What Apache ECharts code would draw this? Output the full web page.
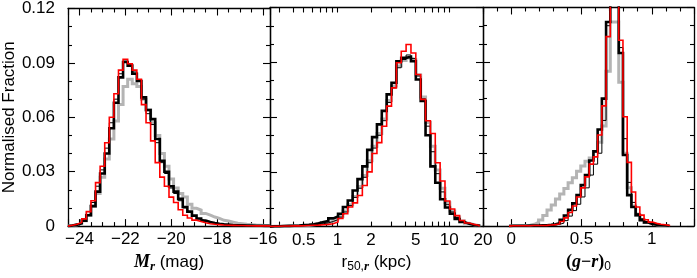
<!DOCTYPE html>
<html>
<head>
<meta charset="utf-8">
<script src="https://cdn.jsdelivr.net/npm/echarts@6.0.0/dist/echarts.min.js"></script>
<style>
html,body{margin:0;padding:0;background:#fff;}
#chart{width:697px;height:278px;}
</style>
</head>
<body>
<div id="chart"></div>
<script>
// ---------------- DATA ----------------
// Panel 1: absolute magnitude M_r, bins of 0.2 mag, first bin edge -24.5
const magEdge0 = -24.5;
const magBinWidth = 0.2;
const magGrey  = [0.0003,0.0007,0.0015,0.003,0.006,0.011,0.018,0.027,0.037,0.048,0.058,0.067,0.077,0.081,0.0785,0.077,0.070,0.064,0.057,0.050,0.040,0.033,0.026,0.021,0.018,0.016,0.012,0.0098,0.0088,0.007,0.006,0.005,0.0043,0.0032,0.0028,0.0022,0.0016,0.0013,0.001,0.0008,0.0006,0.0005,0.0004,0.0003];
const magBlack = [0.0003,0.0008,0.0015,0.003,0.006,0.011,0.019,0.029,0.040,0.054,0.068,0.082,0.0905,0.0885,0.084,0.080,0.071,0.064,0.059,0.048,0.036,0.030,0.022,0.019,0.015,0.0105,0.008,0.0058,0.0042,0.003,0.0022,0.0017,0.0013,0.001,0.0008,0.0006,0.0005,0.0004,0.0003,0.0003,0.0002,0.0002,0.0001,0.0001];
const magThin  = [0.0005,0.001,0.002,0.004,0.008,0.013,0.022,0.031,0.043,0.057,0.070,0.084,0.091,0.089,0.085,0.080,0.070,0.062,0.056,0.046,0.035,0.029,0.021,0.018,0.014,0.010,0.0075,0.0055,0.004,0.0029,0.0021,0.0016,0.0012,0.001,0.0008,0.0006,0.0005,0.0004,0.0003,0.0003,0.0002,0.0002,0.0001,0.0001];
const magRed   = [0.0005,0.001,0.002,0.004,0.008,0.014,0.024,0.033,0.046,0.060,0.073,0.086,0.092,0.0895,0.086,0.081,0.067,0.057,0.047,0.035,0.027,0.022,0.016,0.013,0.009,0.006,0.0045,0.0033,0.0025,0.0018,0.0013,0.001,0.0008,0.0006,0.0005,0.0004,0.0003,0.0003,0.0002,0.0002,0.0001,0.0001,0.0001,0.0001];

// Panel 2: half-light radius r50 (kpc), bins of 0.1 in ln(r), first edge at 0.25 kpc
const r50FirstEdgeKpc = 0.25;
const r50LnBinWidth = 0.1;
const r50Grey  = [0.0002,0.0002,0.0003,0.0003,0.0004,0.0005,0.0006,0.0008,0.001,0.0013,0.0018,0.0022,0.003,0.004,0.0055,0.0085,0.012,0.0165,0.022,0.028,0.036,0.044,0.051,0.059,0.069,0.077,0.088,0.091,0.0924,0.0915,0.083,0.071,0.057,0.044,0.031,0.021,0.013,0.0085,0.0052,0.003,0.0018,0.001,0.0006];
const r50Black = [0.0002,0.0002,0.0003,0.0004,0.0005,0.0006,0.0008,0.001,0.0013,0.0018,0.0025,0.003,0.0045,0.0055,0.007,0.0107,0.0143,0.0198,0.026,0.033,0.042,0.049,0.056,0.0634,0.0724,0.0788,0.0906,0.0924,0.093,0.0906,0.0806,0.0688,0.050,0.033,0.024,0.015,0.0105,0.007,0.0042,0.0025,0.0015,0.0009,0.0005];
const r50Thin  = [0.0002,0.0002,0.0003,0.0003,0.0004,0.0005,0.0006,0.0008,0.001,0.0012,0.0016,0.002,0.0028,0.0038,0.0052,0.008,0.0115,0.016,0.021,0.027,0.035,0.043,0.050,0.058,0.068,0.076,0.087,0.0915,0.094,0.092,0.0825,0.070,0.055,0.041,0.029,0.019,0.012,0.008,0.005,0.0029,0.0017,0.001,0.0006];
const r50Red   = [0.0002,0.0002,0.0003,0.0003,0.0004,0.0004,0.0005,0.0006,0.0007,0.0008,0.001,0.0012,0.0016,0.0025,0.0044,0.007,0.0107,0.013,0.017,0.0225,0.030,0.040,0.046,0.055,0.066,0.076,0.0897,0.096,0.0997,0.0951,0.0833,0.0697,0.058,0.051,0.035,0.025,0.014,0.0096,0.006,0.0033,0.002,0.0012,0.0007];

// Panel 3: colour (g-r)_0, bins of 0.03 centred on multiples of 0.03
const grEdge0 = -0.015;
const grBinWidth = 0.03;
const grGrey  = [0.0002,0.0002,0.0003,0.0003,0.0005,0.001,0.002,0.0034,0.0058,0.0089,0.0116,0.0149,0.0176,0.0207,0.0238,0.0265,0.0301,0.033,0.0356,0.0374,0.041,0.046,0.055,0.085,0.112,0.112,0.079,0.040,0.021,0.011,0.006,0.0035,0.002,0.0012,0.0008,0.0005,0.0003,0.0002];
const grBlack = [0.0002,0.0002,0.0002,0.0002,0.0003,0.0003,0.0003,0.0004,0.0005,0.0007,0.001,0.0016,0.0034,0.0058,0.0089,0.0125,0.017,0.0225,0.028,0.036,0.041,0.053,0.070,0.112,0.14,0.13,0.095,0.039,0.017,0.0105,0.006,0.0033,0.002,0.0012,0.0008,0.0005,0.0003,0.0002];
const grThin  = [0.0002,0.0002,0.0002,0.0002,0.0002,0.0002,0.0003,0.0003,0.0003,0.0004,0.0006,0.001,0.0016,0.003,0.0055,0.0085,0.012,0.016,0.021,0.028,0.034,0.040,0.058,0.110,0.14,0.13,0.098,0.048,0.024,0.013,0.007,0.004,0.0025,0.0015,0.001,0.0006,0.0004,0.0002];
const grRed   = [0.0002,0.0002,0.0002,0.0002,0.0002,0.0003,0.0003,0.0003,0.0004,0.0006,0.0008,0.0012,0.0025,0.0045,0.0075,0.011,0.016,0.021,0.027,0.034,0.038,0.050,0.066,0.104,0.14,0.13,0.102,0.060,0.035,0.0187,0.0105,0.006,0.0035,0.0022,0.0015,0.001,0.0007,0.0004];

// Axis ranges and tick labels
const magRange = [-24.5, -15.7];
const r50RangeKpc = [0.25, 20];
const grRange = [-0.2, 1.3];
const yRange = [0, 0.12];
const yStep = 0.03;
const r50LabelValues = [0.5, 1, 2, 5, 10, 20];
const r50TickValues = [0.3, 0.4, 0.5, 0.6, 0.7, 0.8, 0.9, 1, 2, 3, 4, 5, 6, 7, 8, 9, 10, 20];
const yTitle = 'Normalised Fraction';

// ---------------- CHART ----------------
const SANS = "'Liberation Sans', Arial, Helvetica, sans-serif";
const SERIF = "'Liberation Serif', 'Times New Roman', serif";

function steps(edge0, width, values) {
  const pts = [[edge0, 0]];
  values.forEach((v, i) => pts.push([edge0 + i * width, v]));
  const last = edge0 + values.length * width;
  pts.push([last, values[values.length - 1]]);
  pts.push([last, 0]);
  return pts;
}

const axisLine = { show: true, onZero: false, lineStyle: { color: '#000', width: 1.3 } };
const tickStyle = { color: '#000', width: 1.1 };
const labelBase = { fontFamily: SANS, fontSize: 17, color: '#000' };
const isMult = (v, m) => Math.abs(v / m - Math.round(v / m)) < 1e-6;
const minus = s => String(s).replace('-', '\u2212');

const grids = [
  { left: 61, top: 7.5, width: 209, height: 220.5 },
  { left: 270, top: 7.5, width: 213, height: 220.5 },
  { left: 483, top: 7.5, width: 212, height: 220.5 }
];

function xPair(gi, range, tickOpts, labelOpts, nameOpts) {
  const common = Object.assign({
    type: 'value', gridIndex: gi, min: range[0], max: range[1],
    axisLine: axisLine, splitLine: { show: false }
  }, tickOpts);
  return [
    Object.assign({}, common, { position: 'bottom', axisLabel: Object.assign({}, labelBase, { margin: 5 }, labelOpts) }, nameOpts),
    Object.assign({}, common, { position: 'top', axisLabel: { show: false } })
  ];
}

function yPair(gi, showLabels) {
  const common = {
    type: 'value', gridIndex: gi, min: yRange[0], max: yRange[1], interval: yStep,
    axisLine: axisLine, splitLine: { show: false },
    axisTick: { show: true, inside: true, length: 7, lineStyle: tickStyle },
    minorTick: { show: true, splitNumber: 3, length: 4, lineStyle: tickStyle }
  };
  const left = Object.assign({}, common, {
    position: 'left',
    axisLabel: Object.assign({}, labelBase, { show: showLabels, margin: 13, formatter: v => v === 0 ? '0' : v.toFixed(2) })
  });
  if (showLabels) {
    Object.assign(left, { name: yTitle, nameLocation: 'middle', nameGap: 44, nameTextStyle: { fontFamily: SANS, fontSize: 17, color: '#000' } });
  }
  const right = Object.assign({}, common, { position: 'right', axisLabel: { show: false } });
  return [left, right];
}

const richSub = {
  n: { fontFamily: SANS, fontSize: 17, color: '#000', lineHeight: 22 },
  bi: { fontFamily: SERIF, fontSize: 18, fontStyle: 'italic', fontWeight: 'bold', color: '#000', lineHeight: 22 },
  bp: { fontFamily: SERIF, fontSize: 18, fontWeight: 'bold', color: '#000', lineHeight: 22 },
  sbi: { fontFamily: SERIF, fontSize: 13, fontStyle: 'italic', fontWeight: 'bold', color: '#000', lineHeight: 13, verticalAlign: 'bottom' },
  s: { fontFamily: SANS, fontSize: 12, color: '#000', lineHeight: 13, verticalAlign: 'bottom' }
};

const xAxes = [].concat(
  xPair(0, magRange,
    { minInterval: 2, maxInterval: 2, splitNumber: 4,
      axisTick: { show: true, inside: true, length: 7, lineStyle: tickStyle },
      minorTick: { show: true, splitNumber: 4, length: 4, lineStyle: tickStyle } },
    { formatter: v => isMult(v, 2) ? minus(v) : '' },
    { name: '{bi|M}{sbi|r}{n| (mag)}', nameLocation: 'middle', nameGap: 13, nameTextStyle: { rich: richSub } }),
  xPair(1, r50RangeKpc.map(Math.log10),
    { axisTick: { show: true, inside: true, length: 5, lineStyle: tickStyle, customValues: r50TickValues.map(Math.log10) },
      minorTick: { show: false } },
    { customValues: r50LabelValues.map(Math.log10), formatter: v => String(Math.round(Math.pow(10, v) * 10) / 10) },
    { name: '{n|r}{s|50,}{sbi|r}{n| (kpc)}', nameLocation: 'middle', nameGap: 13, nameTextStyle: { rich: richSub } }),
  xPair(2, grRange,
    { minInterval: 0.5, maxInterval: 0.5, splitNumber: 3,
      axisTick: { show: true, inside: true, length: 7, lineStyle: tickStyle },
      minorTick: { show: true, splitNumber: 5, length: 4, lineStyle: tickStyle } },
    { formatter: v => isMult(v, 0.5) ? String(Math.round(v * 10) / 10) : '' },
    { name: '{bp|(}{bi|g}{bp|\u2212}{bi|r}{bp|)}{s|0}', nameLocation: 'middle', nameGap: 13, nameTextStyle: { rich: richSub } })
);

const yAxes = [].concat(yPair(0, true), yPair(1, false), yPair(2, false));

const styles = [
  { color: '#b4b4b4', width: 3 },
  { color: '#000000', width: 2.6 },
  { color: '#000000', width: 1 },
  { color: '#ff0000', width: 1.6 }
];

const panels = [
  { edge0: magEdge0, width: magBinWidth, sets: [magGrey, magBlack, magThin, magRed] },
  { edge0: Math.log10(r50FirstEdgeKpc), width: r50LnBinWidth / Math.LN10, sets: [r50Grey, r50Black, r50Thin, r50Red] },
  { edge0: grEdge0, width: grBinWidth, sets: [grGrey, grBlack, grThin, grRed] }
];

const series = [];
panels.forEach((p, pi) => {
  p.sets.forEach((vals, si) => {
    series.push({
      type: 'line', step: 'end', showSymbol: false, symbol: 'none', clip: true,
      xAxisIndex: pi * 2, yAxisIndex: pi * 2,
      data: steps(p.edge0, p.width, vals),
      lineStyle: { color: styles[si].color, width: styles[si].width, join: 'miter' },
      z: 2 + si, silent: true
    });
  });
});

const chart = echarts.init(document.getElementById('chart'), null, { renderer: 'canvas' });
chart.setOption({
  animation: false,
  backgroundColor: '#ffffff',
  grid: grids,
  xAxis: xAxes,
  yAxis: yAxes,
  series: series
});
</script>
</body>
</html>
